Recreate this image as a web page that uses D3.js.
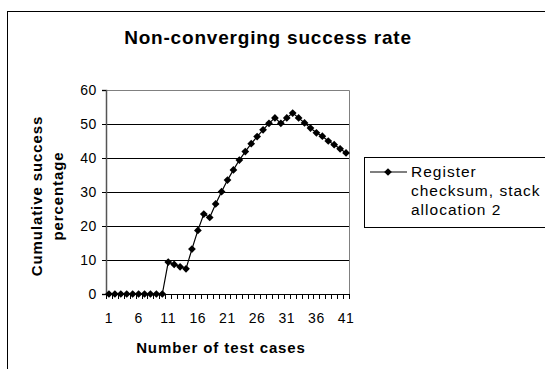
<!DOCTYPE html>
<html>
<head>
<meta charset="utf-8">
<script src="https://cdn.jsdelivr.net/npm/d3@7"></script>
<style>
  body { margin: 0; background: #fff; }
  text { font-family: "Liberation Sans", Arial, sans-serif; }
</style>
</head>
<body>
<div id="chart"></div>
<script>
// data
const cases = d3.range(1, 42);
const successRate = [0, 0, 0, 0, 0, 0, 0, 0, 0, 0,
    9.4, 8.7, 8.0, 7.4, 13.2, 18.7, 23.5, 22.5, 26.5, 30.1,
    33.5, 36.5, 39.4, 41.9, 44.2, 46.3, 48.3, 50.2, 51.8, 50.2,
    51.8, 53.2, 51.8, 50.3, 48.8, 47.4, 46.4, 45.0, 43.9, 42.7, 41.5];
const yTicks = [0, 10, 20, 30, 40, 50, 60];
const xTickLabels = [1, 6, 11, 16, 21, 26, 31, 36, 41];
const seriesName = ["Register", "checksum, stack", "allocation 2"];

const W = 545, H = 369;
const plot = { left: 106, right: 349, top: 90, bottom: 294 };

const svg = d3.select('#chart')
    .append('svg')
    .attr('width', W)
    .attr('height', H);

// outer chart border
svg.append('rect')
    .attr('x', 7.5).attr('y', 11.5)
    .attr('width', 560).attr('height', 400)
    .attr('fill', 'none')
    .attr('stroke', '#000')
    .attr('stroke-width', 1);

svg.append('text')
    .attr('x', 268).attr('y', 44)
    .attr('text-anchor', 'middle')
    .style('font-size', '19px')
    .style('letter-spacing', '0.8px')
    .style('font-weight', 'bold')
    .text('Non-converging success rate');

// scales
const x = d3.scaleBand()
    .domain(cases)
    .range([plot.left, plot.right]);

const y = d3.scaleLinear()
    .domain([0, 60])
    .range([plot.bottom, plot.top]);

// gridlines
svg.append('g')
    .selectAll('line')
    .data(yTicks.slice(1, -1))
    .join('line')
    .attr('x1', plot.left).attr('x2', plot.right)
    .attr('y1', d => Math.round(y(d)) + 0.5)
    .attr('y2', d => Math.round(y(d)) + 0.5)
    .attr('stroke', '#000');

// plot border top & right
svg.append('path')
    .attr('d', `M${plot.left},${plot.top + 0.5}H${plot.right + 0.5}V${plot.bottom}`)
    .attr('fill', 'none')
    .attr('stroke', '#808080');

// y axis
const yAxis = d3.axisLeft(y).tickValues(yTicks).tickSize(4).tickPadding(5);
svg.append('g')
    .attr('transform', `translate(${plot.left},0)`)
    .call(yAxis)
    .call(g => g.select('.domain').attr('stroke', '#555').attr('stroke-width', 1.5))
    .call(g => g.selectAll('text')
        .style('font-size', '14px')
        .style('letter-spacing', '0.6px')
        .style('font-family', '"Liberation Sans", Arial, sans-serif'));

// x axis: ticks between categories, labels every 5
const xAxisG = svg.append('g')
    .attr('transform', `translate(0,${plot.bottom})`);
xAxisG.append('line')
    .attr('x1', plot.left).attr('x2', plot.right)
    .attr('y1', 0.5).attr('y2', 0.5)
    .attr('stroke', '#000');
xAxisG.selectAll('.tk')
    .data(cases.concat([42]))
    .join('line')
    .attr('class', 'tk')
    .attr('x1', d => Math.round(d === 42 ? plot.right : x(d)) + 0.5)
    .attr('x2', d => Math.round(d === 42 ? plot.right : x(d)) + 0.5)
    .attr('y1', 0).attr('y2', 5)
    .attr('stroke', '#000');
xAxisG.selectAll('.lbl')
    .data(xTickLabels)
    .join('text')
    .attr('class', 'lbl')
    .attr('x', d => x(d) + x.bandwidth() / 2)
    .attr('y', 29)
    .attr('text-anchor', 'middle')
    .style('font-size', '14px')
    .style('letter-spacing', '0.6px')
    .text(d => d);

svg.append('text')
    .attr('x', 221).attr('y', 353)
    .attr('text-anchor', 'middle')
    .style('font-size', '15px')
    .style('letter-spacing', '0.9px')
    .style('font-weight', 'bold')
    .text('Number of test cases');

const yTitle = svg.append('text')
    .attr('transform', 'translate(42,196) rotate(-90)')
    .attr('text-anchor', 'middle')
    .style('font-size', '15px')
    .style('letter-spacing', '0.9px')
    .style('font-weight', 'bold');
yTitle.append('tspan').attr('x', 0).attr('y', 0).text('Cumulative success');
yTitle.append('tspan').attr('x', 0).attr('y', 21).text('percentage');

// line + markers
const cx = d => x(d) + x.bandwidth() / 2;
const line = d3.line()
    .x((d, i) => cx(cases[i]))
    .y(d => y(d));

svg.append('path')
    .datum(successRate)
    .attr('d', line)
    .attr('fill', 'none')
    .attr('stroke', '#000')
    .attr('stroke-width', 1.2);

const diamond = d3.symbol().type(d3.symbolSquare).size(30);
svg.append('g')
    .selectAll('path')
    .data(successRate)
    .join('path')
    .attr('d', diamond)
    .attr('transform', (d, i) => `translate(${cx(cases[i])},${y(d)}) rotate(45)`)
    .attr('fill', '#000');

// legend
const legend = svg.append('g');
legend.append('rect')
    .attr('x', 364.5).attr('y', 157.5)
    .attr('width', 200).attr('height', 70)
    .attr('fill', '#fff')
    .attr('stroke', '#000');
legend.append('line')
    .attr('x1', 370).attr('x2', 407)
    .attr('y1', 172).attr('y2', 172)
    .attr('stroke', '#000').attr('stroke-width', 1.2);
legend.append('path')
    .attr('d', diamond)
    .attr('transform', 'translate(388,172) rotate(45)');
legend.selectAll('text')
    .data(seriesName)
    .join('text')
    .attr('x', 411)
    .attr('y', (d, i) => 177 + i * 19)
    .style('font-size', '15.5px')
    .style('letter-spacing', '1px')
    .text(d => d);
</script>
</body>
</html>
